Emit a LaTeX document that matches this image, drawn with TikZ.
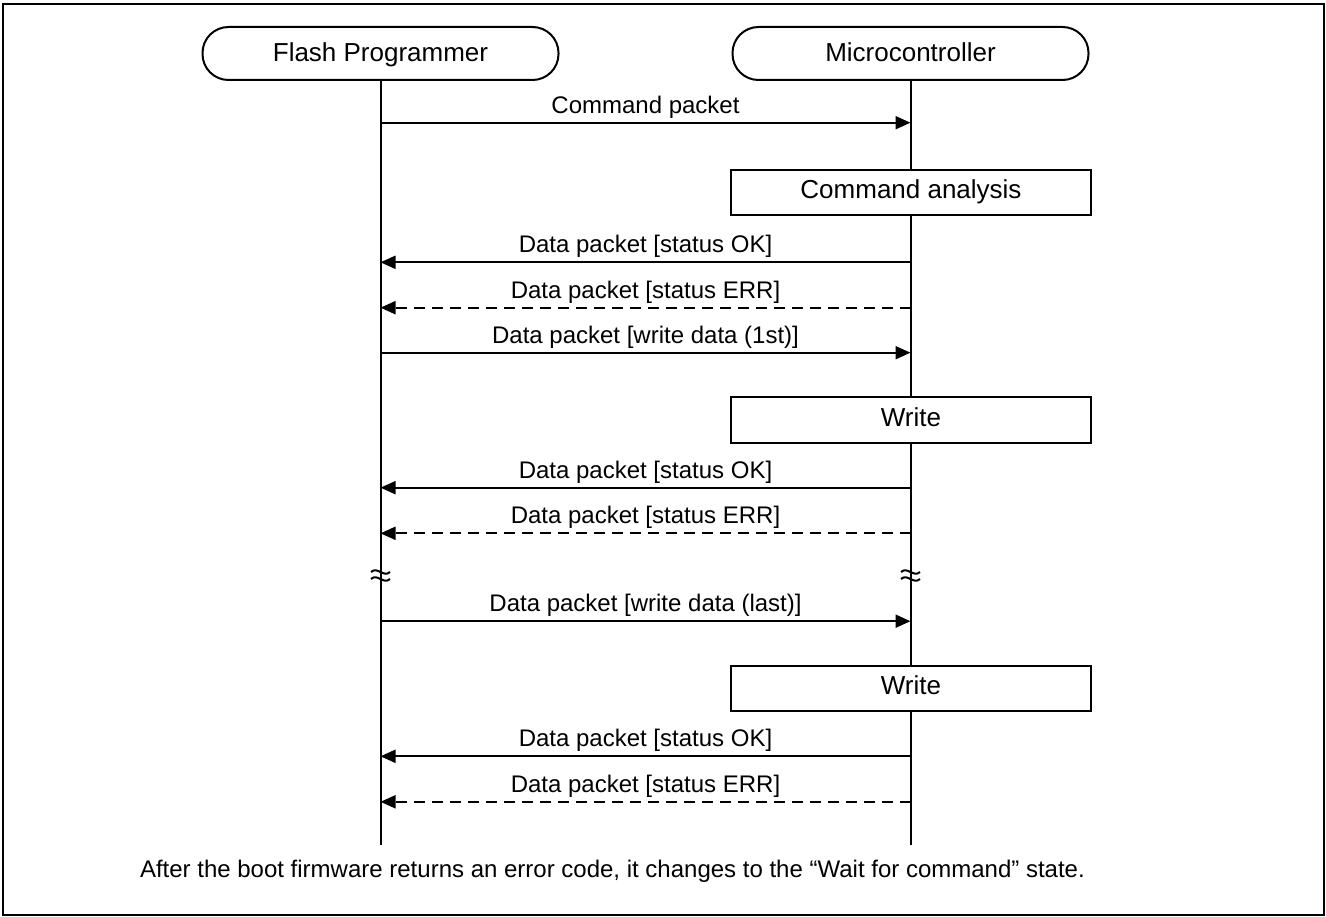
\documentclass[tikz,border=0pt]{standalone}
\usepackage{fontspec}
\setmainfont{Liberation Sans}
\usetikzlibrary{arrows.meta}
\begin{document}
\begin{tikzpicture}[x=1pt,y=-1pt,line width=2pt,
  actor/.style={draw,rounded corners=26pt,minimum width=356pt,minimum height=53pt,
    inner sep=0pt,text height=18.4pt,text depth=2pt,font=\fontsize{26}{30}\selectfont},
  procbox/.style={draw,fill=white,minimum width=360pt,minimum height=45pt,
    inner sep=0pt,text height=16pt,text depth=4pt,font=\fontsize{26}{30}\selectfont},
  msg/.style={-{Triangle[length=15pt,width=13pt]}},
  reply/.style={msg,dash pattern=on 11pt off 7pt},
  lbl/.style={anchor=base,yshift=9.5pt,inner sep=0pt,font=\fontsize{24}{28}\selectfont},
  brk/.style={line width=2pt}
]
\useasboundingbox (0,0) rectangle (1326,917);
\draw (3,4) rectangle (1324,915);

% actors
\node[actor] (FP) at (380.5,53.5) {Flash Programmer};
\node[actor] (MC) at (910.5,53.5) {Microcontroller};

% lifeline ends
\coordinate (FPend) at (380.5,845);
\coordinate (MCend) at (910.5,845);
\draw (FP.south) -- (FPend);
\draw (MC.south) -- (MCend);

% break marks
\foreach \xx in {380.5,910.5}{
  \foreach \yy in {572,579}{
    \draw[brk] (\xx-9.5,\yy) .. controls (\xx-3,\yy-6) and (\xx+3,\yy+6) .. (\xx+9.5,\yy);
  }
}

% process boxes
\node[procbox] (CA) at (911,192.5) {Command analysis};
\node[procbox] (W1) at (911,420) {Write};
\node[procbox] (W2) at (911,688.8) {Write};

% message end points
\foreach \n/\yy in {1/122.7,2/262.3,3/307.7,4/352.7,5/487.7,6/533.3,7/621.2,8/756.3,9/801.8}{
  \coordinate (L\n) at (380.5,\yy);
  \coordinate (R\n) at (910.5,\yy);
}

\draw[msg] (L1) -- (R1) node[lbl,midway] {Command packet};
\draw[msg] (R2) -- (L2) node[lbl,midway] {Data packet [status OK]};
\draw[reply] (R3) -- (L3) node[lbl,midway] {Data packet [status ERR]};
\draw[msg] (L4) -- (R4) node[lbl,midway] {Data packet [write data (1st)]};
\draw[msg] (R5) -- (L5) node[lbl,midway] {Data packet [status OK]};
\draw[reply] (R6) -- (L6) node[lbl,midway] {Data packet [status ERR]};
\draw[msg] (L7) -- (R7) node[lbl,midway] {Data packet [write data (last)]};
\draw[msg] (R8) -- (L8) node[lbl,midway] {Data packet [status OK]};
\draw[reply] (R9) -- (L9) node[lbl,midway] {Data packet [status ERR]};

\node[anchor=base west,inner sep=0pt,font=\fontsize{24}{28}\selectfont] (note) at (139,877)
  {After the boot firmware returns an error code, it changes to the “Wait for command” state.};
\end{tikzpicture}
\end{document}
